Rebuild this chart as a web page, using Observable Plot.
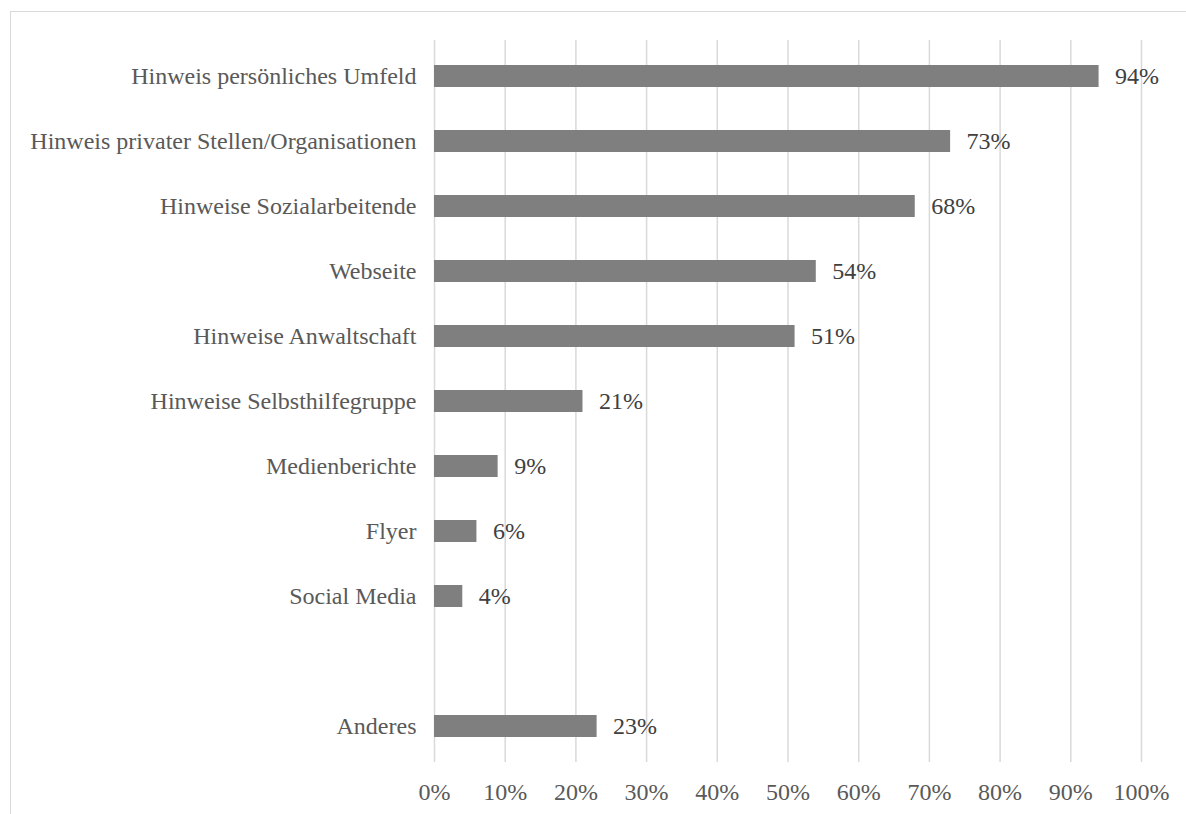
<!DOCTYPE html>
<html><head><meta charset="utf-8">
<script src="https://cdn.jsdelivr.net/npm/d3@7"></script>
<script src="https://cdn.jsdelivr.net/npm/@observablehq/plot@0.6"></script>
<style>
html,body{margin:0;padding:0;background:#fff;overflow:hidden;}
#wrap{position:relative;width:1186px;height:814px;}
#frame{position:absolute;left:10px;top:11px;width:1200px;height:900px;border:1px solid #d9d9d9;box-sizing:border-box;pointer-events:none;}
</style></head>
<body><div id="wrap"><div id="frame"></div></div>
<script>
const categories = ["Hinweis persönliches Umfeld","Hinweis privater Stellen/Organisationen","Hinweise Sozialarbeitende","Webseite","Hinweise Anwaltschaft","Hinweise Selbsthilfegruppe","Medienberichte","Flyer","Social Media"," ","Anderes"];
const barCategories = ["Hinweis persönliches Umfeld","Hinweis privater Stellen/Organisationen","Hinweise Sozialarbeitende","Webseite","Hinweise Anwaltschaft","Hinweise Selbsthilfegruppe","Medienberichte","Flyer","Social Media","Anderes"];
const values = [94,73,68,54,51,21,9,6,4,23];
const xTicks = [0,10,20,30,40,50,60,70,80,90,100];

const data = barCategories.map((c,i)=>({cat:c, v:values[i]}));

const chart = Plot.plot({
  width:1186, height:814,
  marginLeft:434, marginRight:45, marginTop:40, marginBottom:52,
  style:{fontFamily:"'Liberation Serif','Times New Roman',serif", fontSize:"24px", color:"#595959", background:"transparent"},
  x:{domain:[0,100], ticks:xTicks, tickFormat:d=>d+"%", tickSize:0, tickPadding:20, label:null},
  y:{domain:categories, paddingInner:0.665, paddingOuter:0.3325, tickSize:0, tickPadding:18, label:null},
  marks:[
    Plot.ruleX(xTicks, {stroke:"#d9d9d9", strokeWidth:1.5}),
    Plot.barX(data, {x:"v", y:"cat", fill:"#7f7f7f"}),
    Plot.text(data, {x:"v", y:"cat", text:d=>d.v+"%", dx:16, textAnchor:"start", fill:"#404040", fontSize:24})
  ]
});
chart.style.position="absolute"; chart.style.left="0"; chart.style.top="0";
document.getElementById("wrap").prepend(chart);
</script></body></html>
